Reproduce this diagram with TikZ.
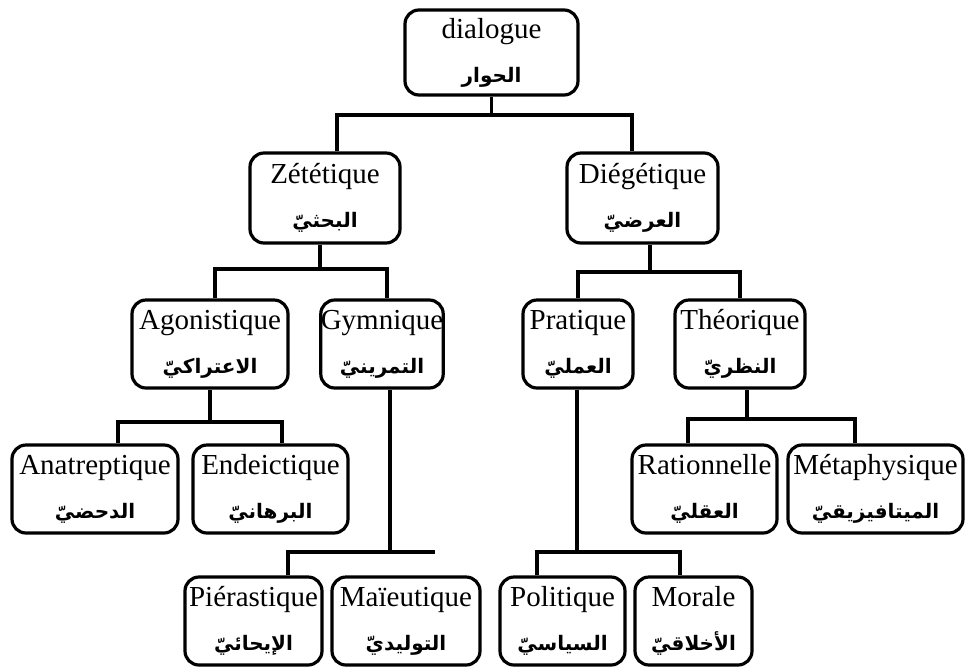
\documentclass[tikz,border=0pt]{standalone}
\usepackage{fontspec}
\setmainfont{Liberation Serif}
\newfontfamily\arabicfont[Script=Arabic]{DejaVu Sans}
\TeXXeTstate=1
\newcommand{\artxt}[1]{{\arabicfont\bfseries\fontsize{10}{12}\selectfont\beginR #1\endR}}
\begin{document}
\begin{tikzpicture}[x=0.5pt,y=-0.5pt,
  box/.style={draw, line width=1.6pt, rounded corners=7pt, inner sep=0pt,
    align=center, font=\fontsize{14.5}{17}\selectfont},
  conn/.style={line width=1.6pt}]
\useasboundingbox (0,0) rectangle (969,671);
% row 0
\node[box, minimum width=86.5pt, minimum height=42.5pt] (dia) at (491.5,52.5) {dialogue\\[5pt]\artxt{الحوار}};
% row 1
\node[box, minimum width=75pt, minimum height=45pt] (zet) at (325,198) {Zététique\\[5pt]\artxt{البحثيّ}};
\node[box, minimum width=75.5pt, minimum height=45pt] (die) at (642.5,198) {Diégétique\\[5pt]\artxt{العرضيّ}};
% row 2
\node[box, minimum width=78pt, minimum height=44pt] (ago) at (210,344) {Agonistique\\[5pt]\artxt{الاعتراكيّ}};
\node[box, minimum width=60pt, minimum height=44pt] (gym) at (382,344) {Gymnique\\[5pt]\artxt{التمرينيّ}};
\node[box, minimum width=55pt, minimum height=44pt] (pra) at (578,344) {Pratique\\[5pt]\artxt{العمليّ}};
\node[box, minimum width=65pt, minimum height=44pt] (the) at (740,344) {Théorique\\[5pt]\artxt{النظريّ}};
% row 3
\node[box, minimum width=83pt, minimum height=44pt] (ana) at (95,489) {Anatreptique\\[5pt]\artxt{الدحضيّ}};
\node[box, minimum width=77.5pt, minimum height=44pt] (end) at (270.5,489) {Endeictique\\[5pt]\artxt{البرهانيّ}};
\node[box, minimum width=72.5pt, minimum height=44pt] (rat) at (704.5,489) {Rationnelle\\[5pt]\artxt{العقليّ}};
\node[box, minimum width=87.5pt, minimum height=44pt] (met) at (875.5,489) {Métaphysique\\[5pt]\artxt{الميتافيزيقيّ}};
% row 4
\node[box, minimum width=68.5pt, minimum height=44pt] (pie) at (253.5,621) {Piérastique\\[5pt]\artxt{الإيحائيّ}};
\node[box, minimum width=74pt, minimum height=44pt] (mai) at (406,621) {Maïeutique\\[5pt]\artxt{التوليديّ}};
\node[box, minimum width=62.5pt, minimum height=44pt] (pol) at (562.5,621) {Politique\\[5pt]\artxt{السياسيّ}};
\node[box, minimum width=58.5pt, minimum height=44pt] (mor) at (693.5,621) {Morale\\[5pt]\artxt{الأخلاقيّ}};
% junctions
\coordinate (j1) at (491.5,115);
\coordinate (j2) at (320,269);
\coordinate (j3) at (650,272);
\coordinate (j4) at (210,422);
\coordinate (j5) at (435,552);
\coordinate (j6) at (577,552);
\coordinate (j7) at (747,419);
% connectors
\draw[conn] (dia.south) -- (j1);
\draw[conn] ([xshift=6pt]zet.north) |- (j1) -| ([xshift=-5.25pt]die.north);
\draw[conn] ([xshift=-2.5pt]zet.south) -- (j2);
\draw[conn] ([xshift=2.5pt]ago.north) |- (j2) -| ([xshift=2.5pt]gym.north);
\draw[conn] ([xshift=3.75pt]die.south) -- (j3);
\draw[conn] (pra.north) |- (j3) -| (the.north);
\draw[conn] (ago.south) -- (j4);
\draw[conn] ([xshift=11.5pt]ana.north) |- (j4) -| ([xshift=5.75pt]end.north);
\draw[conn] ([xshift=4pt]gym.south) -- ([xshift=4pt]gym.south |- j5);
\draw[conn] ([xshift=17.25pt]pie.north) |- (j5);
\draw[conn] ([xshift=-0.5pt]pra.south) -- (j6);
\draw[conn] ([xshift=-12.75pt]pol.north) |- (j6) -| ([xshift=-6.75pt]mor.north);
\draw[conn] ([xshift=3.5pt]the.south) -- (j7);
\draw[conn] ([xshift=-8.25pt]rat.north) |- (j7) -| ([xshift=-10.25pt]met.north);
\end{tikzpicture}
\end{document}
